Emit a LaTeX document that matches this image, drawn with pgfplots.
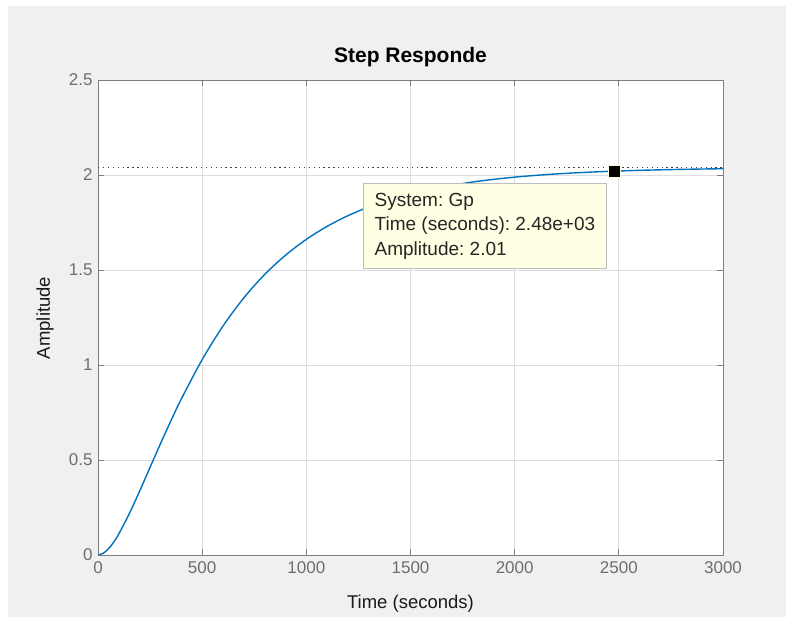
\documentclass[border=0pt]{standalone}
\usepackage{pgfplots}
\pgfplotsset{compat=1.18}
\usepackage{fontspec}
\setmainfont{Liberation Sans}
\frenchspacing
\definecolor{figbg}{RGB}{240,240,240}
\definecolor{axgray}{RGB}{125,125,125}
\definecolor{ticktxt}{RGB}{110,110,110}
\definecolor{gridc}{RGB}{222,222,222}
\definecolor{mblue}{RGB}{0,114,189}
\definecolor{tipbg}{RGB}{255,255,228}
\definecolor{tipedge}{RGB}{190,190,190}
\begin{document}
\frenchspacing
\begin{tikzpicture}
\fill[white] (0pt,0pt) rectangle (786pt,617pt);
\fill[figbg] (8pt,0pt) rectangle (786pt,611pt);
\begin{axis}[
  at={(98pt,62pt)}, anchor=south west,
  scale only axis, width=625pt, height=475pt,
  xmin=0, xmax=3000, ymin=0, ymax=2.5,
  xtick={0,500,1000,1500,2000,2500,3000},
  ytick={0,0.5,1,1.5,2,2.5},
  scaled ticks=false,
  /pgf/number format/1000 sep={},
  /pgf/number format/assume math mode=true,
  tick label style={font=\fontsize{17}{19}\selectfont, text=ticktxt},
  xticklabel style={yshift=-3pt},
  yticklabel style={xshift=-2pt},
  axis line style={axgray, line width=0.9pt},
  tick style={axgray, line width=0.9pt},
  tick align=inside,
  major tick length=6pt,
  grid=major,
  major grid style={gridc, line width=0.8pt},
  axis background/.style={fill=white},
  clip=true,
]
\addplot[black!75, line width=1pt, dash pattern=on 1.3pt off 3.6pt] coordinates {(0,2.04) (3000,2.04)};
\addplot[mblue, line width=1.4pt, smooth] coordinates {
(0,0) (25,0.0087) (50,0.0322) (75,0.0672) (100,0.1111) (150,0.2171)
(200,0.3368) (250,0.4616) (300,0.5861) (350,0.7066) (400,0.8211)
(500,1.0284) (600,1.2052) (700,1.3534) (800,1.4764) (900,1.5778)
(1000,1.6613) (1100,1.7298) (1200,1.7859) (1300,1.8319) (1400,1.8696)
(1500,1.9005) (1600,1.9258) (1800,1.9634) (2000,1.9887) (2200,2.0056)
(2400,2.0169) (2600,2.0245) (2800,2.0296) (3000,2.0331)
};
\node[anchor=north west, fill=tipbg, draw=tipedge, line width=0.9pt,
      align=left, inner xsep=6pt, inner ysep=5pt, text=black!85,
      font=\fontsize{19}{24.5}\selectfont\frenchspacing, minimum width=243pt, minimum height=85pt]
  at (axis cs:1272,1.958) {System: Gp\\Time (seconds): 2.48e+03\\Amplitude: 2.01};
\addplot[only marks, mark=square*, mark size=6pt,
  mark options={fill=black, draw=tipbg, line width=0.8pt}] coordinates {(2480,2.02)};
\end{axis}
\node[font=\bfseries\fontsize{21}{24}\selectfont, text=black] at (410.5pt,560pt) {Step Responde};
\node[font=\fontsize{18.5}{21}\selectfont, text=black!90] at (410.5pt,13pt) {Time (seconds)};
\node[font=\fontsize{18.5}{21}\selectfont, text=black!90, rotate=90] at (45pt,299pt) {Amplitude};
\end{tikzpicture}
\end{document}
